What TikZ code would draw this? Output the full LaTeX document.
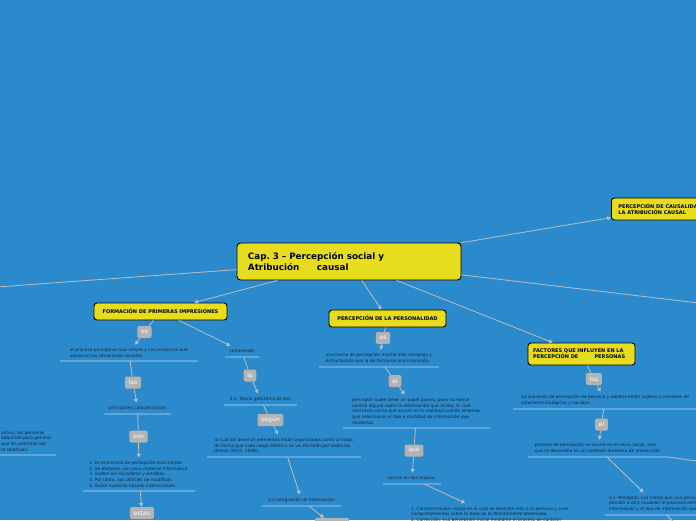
\documentclass[tikz,border=0pt]{standalone}
\usepackage{fontspec}
\setmainfont{DejaVu Sans}
\usetikzlibrary{arrows.meta}
\definecolor{sky}{HTML}{2A8ACB}
\definecolor{ink}{HTML}{14263D}
\definecolor{wire}{HTML}{B9BDC2}
\definecolor{stripe}{HTML}{5CA6D9}
\definecolor{tagfill}{HTML}{B3B3B3}
\definecolor{lemon}{HTML}{E8DC1E}
\frenchspacing

\begin{document}
\begin{tikzpicture}[
    x=0.03cm, y=-0.03cm,
    font=\rmfamily,
    flow/.style={
      draw=wire,
      line width=0.7pt,
      -{Triangle[length=3.2pt,width=3.4pt]},
    },
    link/.style={
      draw=wire,
      line width=0.7pt,
    },
    uline/.style={
      draw=stripe,
      line width=1pt,
    },
    topic/.style={
      draw=black,
      fill=lemon,
      rounded corners=2.5pt,
      line width=0.8pt,
      inner sep=0pt,
      text=black,
      font=\bfseries\fontsize{4.3}{5.1}\selectfont,
    },
    tagbox/.style={
      fill=tagfill,
      text=white,
      rounded corners=1.2pt,
      minimum height=0.36cm,
      inner xsep=0.11cm,
      inner ysep=0pt,
      font=\fontsize{5.2}{6}\selectfont,
    },
    note/.style={
      text=ink,
      align=left,
      inner xsep=0.12cm,
      inner ysep=0.1cm,
      font=\fontsize{3.7}{4.9}\selectfont,
    },
  ]

  % Canvas
  \fill[sky] (0,0) rectangle (696,520);
  \useasboundingbox (0,0) rectangle (696,520);

  % Main topic and branches
  \node[topic, font=\bfseries\fontsize{7.5}{9.4}\selectfont, text width=6.06cm,
    align=left, inner xsep=0.33cm, minimum height=1.11cm, rounded corners=3pt]
    (cap) at (349,261.5) {Cap. 3 – Percepción social y\\Atribución\hspace{2em}causal};
  \node[topic, anchor=west, minimum height=0.66cm, inner xsep=0.21cm, align=left]
    (causal) at (611,209) {PERCEPCIÓN DE CAUSALIDAD Y\\LA ATRIBUCIÓN CAUSAL};
  \node[topic, minimum width=3.99cm, minimum height=0.51cm]
    (form) at (160.5,311.5) {FORMACIÓN DE PRIMERAS IMPRESIONES};
  \node[topic, minimum width=3.51cm, minimum height=0.51cm]
    (pers) at (387.5,318.5) {PERCEPCIÓN DE LA PERSONALIDAD};
  \node[topic, text width=2.9cm, inner xsep=0.155cm, minimum height=0.66cm, align=left]
    (fact) at (581.5,354) {FACTORES QUE INFLUYEN EN LA\\PERCEPCIÓN DE\hspace{3.2em}PERSONAS};

  \coordinate (offl) at (-100,294);
  \coordinate (offr) at (800,315);
  \coordinate (offr2) at (760,470);
  \coordinate (offd) at (692,540);

  % Link words
  \node[tagbox] (es1) at (144.5,332) {es};
  \node[tagbox] (las) at (133,382.5) {las};
  \node[tagbox] (son) at (138.5,436.5) {son};
  \node[tagbox] (estas) at (142,513) {estas};
  \node[tagbox] (la) at (250,375.5) {la};
  \node[tagbox] (segun) at (270.5,420) {según};
  \node[tagbox, minimum width=1.02cm] (blank) at (332,524) {};
  \node[tagbox] (es2) at (383,338) {es};
  \node[tagbox] (el2) at (395,381) {el};
  \node[tagbox] (que) at (414,450.5) {que};
  \node[tagbox] (los) at (594,379) {los};
  \node[tagbox] (el3) at (601.5,424.5) {el};

  % Notes
  \node[note, anchor=south west] (tl) at (-3,455)
    {activo, las personas\\adquirida para generar\\que les permitan ser\\te reactivas.};
  \node[note, anchor=south, minimum width=4.14cm] (t1) at (129,361)
    {el proceso perceptivo más simple y circunstancial que\\existe en las situaciones sociales.};
  \node[note, anchor=south, minimum width=2.01cm] (t2) at (137.5,414)
    {principales características};
  \node[note, anchor=south, minimum width=3.36cm] (t3) at (139,491)
    {1. Es el proceso de percepción más simple.\\
     2. Se elaboran con poco material informativo.\\
     3. Suelen ser duraderas y estables.\\
     4. Por tanto, son difíciles de modificar.\\
     5. Guían nuestras futuras interacciones.};
  \node[note, anchor=south, minimum width=1.02cm] (t4) at (242,357) {comprende};
  \node[note, anchor=south, minimum width=2.19cm] (t5) at (260.5,405)
    {3.1. Teoría gestáltica de Ash};
  \node[note, anchor=south, minimum width=4.62cm] (t6) at (284,457)
    {la cual los diversos elementos están organizados como un todo,\\
     de forma que cada rasgo afecta y se ve afectado por todos los\\
     demás (Asch, 1946).};
  \node[note, anchor=south, minimum width=2.37cm] (t7) at (301.5,506)
    {3.2 Integración de información};
  \node[note, anchor=south, minimum width=3.6cm] (t8) at (379,367)
    {una forma de percepción mucho más compleja y\\
     estructurada que la de formarse una impresión.};
  \node[note, anchor=south, minimum width=4.41cm] (t9) at (416.5,428)
    {perceptor suele tener un papel pasivo, pues no ejerce\\
     control alguno sobre la información que recibe, lo cual\\
     contrasta con lo que ocurre en la realidad cuando tenemos\\
     que seleccionar el tipo y cantidad de información que\\
     recibimos.};
  \node[note, anchor=south, minimum width=1.74cm] (t10) at (412,484)
    {ocurre en dos etapas:};
  \node[note, anchor=north west] (t11) at (407,503)
    {1. Caracterización: etapa en la cual se describe más a la persona y a los\\
     comportamientos sobre la base de lo directamente observado.\\
     2. Corrección: esa percepción inicial mediante el proceso de carácter};
  \node[note, anchor=south, minimum width=5.52cm] (t12) at (605,409)
    {los procesos de percepción de persona y objetos están sujetos a variables de\\
     caracteres biológicos y sociales.};
  \node[note, anchor=south, minimum width=4.2cm] (t13) at (598,457)
    {proceso de percepción no ocurre en el vacío social, sino\\
     que se desarrolla en un contexto dinámico de interacción.};
  \node[note, anchor=south west] (t14) at (605,515)
    {5.1 Perceptor: Las metas que una persona\\
     percibir a otra modelan el procesamiento\\
     información y el tipo de información que};

  % Underlines
  \foreach \n in {tl,t1,t2,t3,t4,t5,t6,t7,t8,t9,t10,t12,t13,t14}
    \draw[uline] (\n.south west) -- (\n.south east);

  % Connectors
  \draw[flow] (cap) -- (causal);
  \draw[flow] (cap) -- (offl);
  \draw[flow] (cap) -- (offr);
  \draw[flow] (cap) -- (form);
  \draw[flow] (cap) -- (pers);
  \draw[flow] (cap) -- (fact);

  \draw[link] (form) -- (es1);
  \draw[flow] (es1) -- (t1);
  \draw[link] (t1) -- (las);
  \draw[flow] (las) -- (t2);
  \draw[link] (t2) -- (son);
  \draw[flow] (son) -- (t3);
  \draw[flow] (t3) -- (estas);
  \draw[flow] (form) -- (t4);
  \draw[link] (t4) -- (la);
  \draw[flow] (la) -- (t5);
  \draw[link] (t5) -- (segun);
  \draw[flow] (segun) -- (t6);
  \draw[flow] (t6) -- (t7);
  \draw[flow] (t7) -- (blank);

  \draw[link] (pers) -- (es2);
  \draw[flow] (es2) -- (t8);
  \draw[link] (t8) -- (el2);
  \draw[flow] (el2) -- (t9);
  \draw[link] (t9) -- (que);
  \draw[flow] (que) -- (t10);
  \draw[flow] (t10) -- (t11);

  \draw[link] (fact) -- (los);
  \draw[flow] (los) -- (t12);
  \draw[link] (t12) -- (el3);
  \draw[flow] (el3) -- (t13);
  \draw[flow] (t13) -- (t14);
  \draw[flow] (t13.south east) -- (offr2);
  \draw[flow] (t14) -- (offd);

\end{tikzpicture}
\end{document}
